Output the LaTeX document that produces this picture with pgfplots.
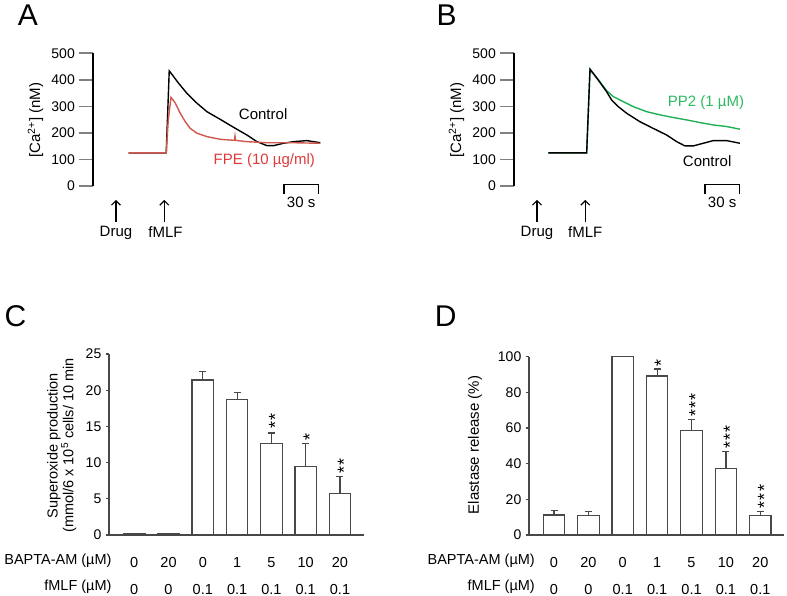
\documentclass[border=0pt]{standalone}
\usepackage{fontspec}
\setmainfont{Liberation Sans}
\usepackage{pgfplots}
\usepackage{pgfplotstable}
\pgfplotsset{compat=1.18}
\usetikzlibrary{arrows.meta}

\definecolor{fpe}{RGB}{208,88,78}
\definecolor{fpetext}{RGB}{222,58,58}
\definecolor{pp2}{RGB}{32,176,86}
\definecolor{pp2text}{RGB}{44,186,96}
\definecolor{bargrey}{RGB}{72,72,72}

% Ca2+ traces, time in s after fMLF, [Ca2+] in nM
\pgfplotstableread{
t v
-31 125
-15 125
0 125
1.7 125
4.3 434
12.5 387
19.7 349
28.4 312
37.1 280
48.7 251
60.3 221
71.9 192
80.6 167
89.3 152
95 152
103.7 161
112.4 167
124 171
135.7 163
}\ctrlA
\pgfplotstableread{
t v
-31 125
-15 125
0 125
1.7 125
3.5 250
5.8 334
7.5 325
9.6 312
13.9 274
18.3 242
22.6 217
28.4 199
37.1 186
48.7 176
61.0 172
61.5 188
62.0 172
71.9 167
89.3 163
112.4 163
135.7 161
}\fpeA
\pgfplotstableread{
t v
-32 125
-15 125
0 125
1.2 125
4.1 440
11.3 399
18.6 355
22.9 324
28.7 299
36 274
47.6 242
59.1 217
70.8 192
79.5 167
86.7 151
93.9 151
102.6 161
111.3 171
123 171
134.5 161
}\ctrlB
\pgfplotstableread{
t v
-32 125
-15 125
0 125
1.2 125
4.1 440
11.3 401
18.6 359
24.3 337
33 318
41.7 299
53.4 280
65 268
76.5 258
88.2 249
99.7 239
111.3 230
123 224
134.5 214
}\ppB
% bar charts
\pgfplotstableread{
i v e
0 0.2 0
1 0.2 0
2 21.4 1.2
3 18.7 1.0
4 12.6 1.5
5 9.5 3.1
6 5.7 2.4
}\dataC
\pgfplotstableread{
i v e
0 11.2 2.4
1 10.8 2.2
2 100 0
3 89.2 3.9
4 58.7 5.9
5 37.2 9.5
6 10.8 2.2
}\dataD

\pgfplotsset{
  trace/.style={
    scale only axis, anchor=south west,
    width=238pt, height=132.7pt,
    xmin=-62, xmax=145, ymin=0, ymax=500,
    axis x line=none, axis y line*=left,
    ytick={0,100,...,500}, tick align=outside,
    major tick length=14pt,
    axis line style={line width=1.7pt},
    ytick style={line width=1.7pt},
    yticklabel style={font=\fontsize{14}{16}\selectfont, inner sep=0pt, xshift=-4pt},
    /pgf/number format/assume math mode=true,
    clip=false,
  },
  bars/.style={
    scale only axis, anchor=south west,
    width=255pt,
    ymin=0,
    axis x line*=bottom, axis y line*=left,
    axis line style={line width=1.2pt, bargrey},
    tick align=outside, major tick length=3.5pt,
    ytick style={line width=1.2pt, bargrey},
    xtick={0,...,6}, xtick style={draw=none},
    xticklabels={{0\\0},{20\\0},{0\\0.1},{1\\0.1},{5\\0.1},{10\\0.1},{20\\0.1}},
    xticklabel style={align=center, anchor=north, inner sep=0pt, yshift=-18.6pt,
      font=\fontsize{14.5}{27}\selectfont},
    yticklabel style={font=\fontsize{14}{16}\selectfont, inner sep=0pt, xshift=-4pt},
    /pgf/number format/assume math mode=true,
    clip=false,
  },
  barplot/.style={ybar, bar width=21.5pt, fill=white, draw=bargrey, line width=1.2pt,
    error bars/.cd, y dir=plus, y explicit,
    error bar style={line width=1.2pt, bargrey},
    error mark options={rotate=90, mark size=3.5pt, line width=1.2pt, bargrey}},
}
\tikzset{
  lab/.style={font=\fontsize{15}{17}\selectfont, inner sep=0pt},
  % stacked significance stars: one rotated node per bar
  stars/.style={font=\fontsize{18}{18}\selectfont, inner sep=0pt, xshift=3.9pt, rotate=90},
  panel/.style={font=\fontsize{30}{30}\selectfont, inner sep=0pt},
  arr/.style={line width=1.2pt, -{Straight Barb[length=4.5pt,width=9pt]}},
}
\newcommand{\twostar}{*\hspace{1.4pt}*}
\newcommand{\threestar}{*\hspace{1.4pt}*\hspace{1.4pt}*}

\begin{document}
\begin{tikzpicture}
\path[use as bounding box] (0,0) rectangle (787pt,-596pt);

% ---------- A ----------
\begin{axis}[trace, at={(93pt,-186pt)}]
\addplot[black, line width=1.4pt] table[x=t,y=v] {\ctrlA};
\addplot[fpe, line width=1.4pt] table[x=t,y=v] {\fpeA};
\node[lab] at (axis cs:86,272) {Control};
\node[lab, text=fpetext] at (axis cs:87,94) {FPE (10 µg/ml)};
\node[lab, rotate=90] at (axis cs:-112,248) {[Ca\textsuperscript{2+}] (nM)};
\draw[arr] (axis cs:-42,-134) -- (axis cs:-42,-52);
\draw[arr] (axis cs:0,-134) -- (axis cs:0,-52);
\node[lab] at (axis cs:-42,-175) {Drug};
\node[lab] at (axis cs:1,-175) {fMLF};
\draw[line width=1.4pt] (axis cs:104,-31) -- (axis cs:104,5) -- (axis cs:134,5) -- (axis cs:134,-31);
\node[lab] at (axis cs:119,-60) {30 s};
\end{axis}

% ---------- B ----------
\begin{axis}[trace, at={(514pt,-186pt)}]
\addplot[pp2, line width=1.4pt] table[x=t,y=v] {\ppB};
\addplot[black, line width=1.4pt] table[x=t,y=v] {\ctrlB};
\node[lab, text=pp2text] at (axis cs:105,315) {PP2 (1 µM)};
\node[lab] at (axis cs:106,92) {Control};
\node[lab, rotate=90] at (axis cs:-112,248) {[Ca\textsuperscript{2+}] (nM)};
\draw[arr] (axis cs:-42,-134) -- (axis cs:-42,-52);
\draw[arr] (axis cs:0,-134) -- (axis cs:0,-52);
\node[lab] at (axis cs:-42,-175) {Drug};
\node[lab] at (axis cs:0,-175) {fMLF};
\draw[line width=1.4pt] (axis cs:104,-31) -- (axis cs:104,5) -- (axis cs:134,5) -- (axis cs:134,-31);
\node[lab] at (axis cs:119,-60) {30 s};
\end{axis}

% ---------- C ----------
\begin{axis}[bars, at={(109pt,-535pt)}, height=181pt,
  xmin=-0.735, xmax=6.70, ymax=25, ytick={0,5,...,25}]
\addplot[barplot] table[x=i,y=v,y error=e] {\dataC};
\node[stars] at (axis cs:4,15.75) {\twostar};
\node[stars] at (axis cs:5,13.6) {*};
\node[stars] at (axis cs:6,9.55) {\twostar};
\end{axis}

% ---------- D ----------
\begin{axis}[bars, at={(529pt,-535pt)}, height=178.3pt,
  xmin=-0.727, xmax=6.69, ymax=100, ytick={0,20,...,100}]
\addplot[barplot] table[x=i,y=v,y error=e] {\dataD};
\node[stars] at (axis cs:3,96.6) {*};
\node[stars] at (axis cs:4,72.9) {\threestar};
\node[stars] at (axis cs:5,55.0) {\threestar};
\node[stars] at (axis cs:6,21.4) {\threestar};
\end{axis}

% axis titles and row headers of C and D
\node[lab, rotate=90, align=center, font=\fontsize{14.5}{15.7}\selectfont] at (61.7pt,-445.5pt)
  {Superoxide production\\(mmol/6 x 10\textsuperscript{5} cells/ 10 min};
\node[lab, rotate=90] at (475pt,-445pt) {Elastase release (\%)};
\node[lab, anchor=base east, font=\fontsize{14.5}{17}\selectfont] at (111.7pt,-564pt) {BAPTA-AM (µM)};
\node[lab, anchor=base east, font=\fontsize{14.5}{17}\selectfont] at (111.7pt,-590.9pt) {fMLF (µM)};
\node[lab, anchor=base east, font=\fontsize{14.5}{17}\selectfont] at (535pt,-564pt) {BAPTA-AM (µM)};
\node[lab, anchor=base east, font=\fontsize{14.5}{17}\selectfont] at (535pt,-590.9pt) {fMLF (µM)};

% panel letters
\node[panel] at (28pt,-15.5pt) {A};
\node[panel] at (446.7pt,-15.5pt) {B};
\node[panel] at (15.5pt,-316pt) {C};
\node[panel] at (445.8pt,-316pt) {D};
\end{tikzpicture}
\end{document}
